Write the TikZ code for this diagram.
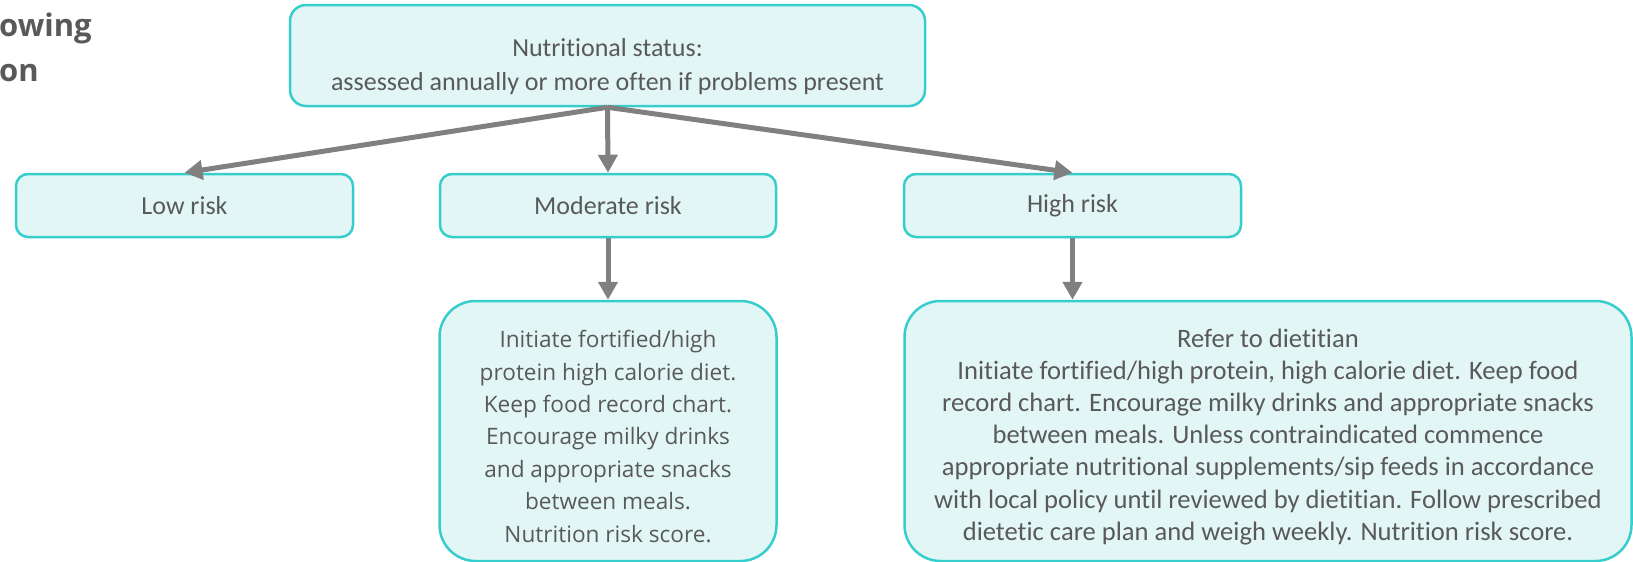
\documentclass[tikz,border=0pt]{standalone}
\usepackage{fontspec}
\setmainfont{Carlito}[Ligatures=CommonOff]
\newfontfamily\opensans{Open Sans}
\usetikzlibrary{arrows.meta}
\definecolor{boxfill}{HTML}{E2F7F5}
\definecolor{boxline}{HTML}{38CDCD}
\definecolor{txtgray}{HTML}{595959}
\definecolor{arrgray}{HTML}{808080}
\tikzset{
  riskbox/.style={draw=boxline, fill=boxfill, line width=2.5pt, rounded corners=12pt,
    text=txtgray, align=center, inner sep=0pt, font=\fontsize{26}{34}\selectfont},
  flowarrow/.style={draw=arrgray, line width=5pt, -{Triangle[length=18pt,width=19pt]}},
  titletext/.style={text=txtgray, inner sep=0pt, font=\opensans\bfseries\fontsize{31}{31}\selectfont},
}
\begin{document}
\begin{tikzpicture}[x=1pt,y=1pt]
\useasboundingbox (0,0) rectangle (1633,-562);
\node[titletext, anchor=base west] (titlea) at (-1,-36) {owing};
\node[titletext, anchor=base west] (titleb) at ([yshift=-45pt]titlea.base west) {on};
\node[riskbox, rounded corners=16pt, minimum width=635pt, minimum height=101pt] (status) at (607.5,-55.5) {\rule{0pt}{40pt}Nutritional status:\\assessed annually or more often if problems present};
\node[riskbox, minimum width=337pt, minimum height=63pt] (low) at (184.5,-205.5) {Low risk};
\node[riskbox, minimum width=336pt, minimum height=63pt] (moderate) at (608,-205.5) {Moderate risk};
\node[riskbox, minimum width=337pt, minimum height=63pt] (high) at (1072.5,-205.5) {High risk};
\node[riskbox, rounded corners=36pt, minimum width=337pt, minimum height=260pt, font=\opensans\fontsize{22.6}{32.4}\selectfont] (modplan) at (608,-431) {\rule{0pt}{28pt}Initiate fortified/high\\protein high calorie diet.\\Keep food record chart.\\Encourage milky drinks\\and appropriate snacks\\between meals.\\Nutrition risk score.};
\node[riskbox, rounded corners=36pt, minimum width=727pt, minimum height=260pt, font=\fontsize{26.6}{32.2}\selectfont] (highplan) at (1268,-431) {\rule{0pt}{30pt}Refer to dietitian\\Initiate fortified/high protein, high calorie diet. Keep food\\record chart. Encourage milky drinks and appropriate snacks\\between meals. Unless contraindicated commence\\appropriate nutritional supplements/sip feeds in accordance\\with local policy until reviewed by dietitian. Follow prescribed\\dietetic care plan and weigh weekly. Nutrition risk score.};
\draw[flowarrow] (status.south) -- (low.north);
\draw[flowarrow] (status.south) -- (moderate.north);
\draw[flowarrow] (status.south) -- (high.north);
\draw[flowarrow] (moderate.south) -- (modplan.north);
\draw[flowarrow] (high.south) -- (highplan.north -| high.south);
\end{tikzpicture}
\end{document}
